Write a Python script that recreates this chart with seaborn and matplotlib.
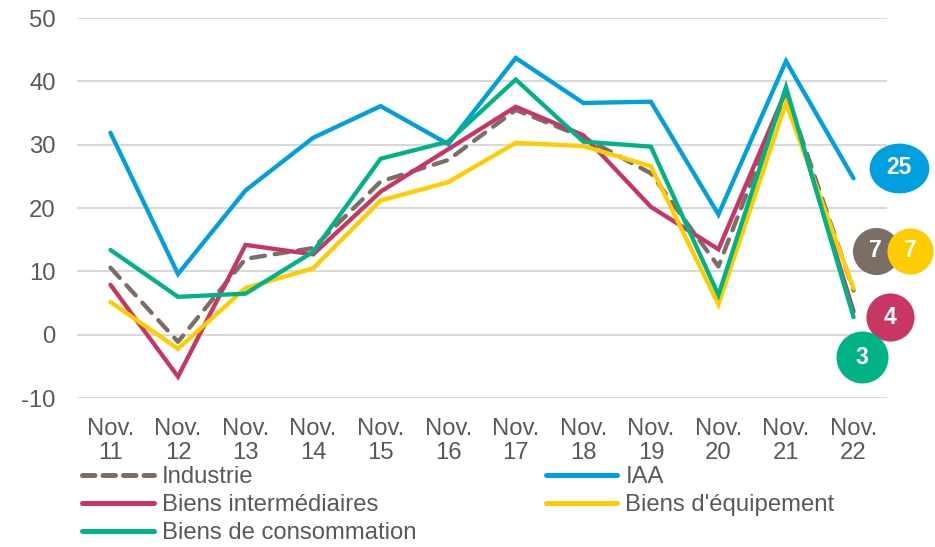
import numpy as np
import pandas as pd
import matplotlib.pyplot as plt
import seaborn as sns
from matplotlib.lines import Line2D

# ==========================================
# données
# ==========================================
mois = ["Nov.\n11", "Nov.\n12", "Nov.\n13", "Nov.\n14", "Nov.\n15", "Nov.\n16",
        "Nov.\n17", "Nov.\n18", "Nov.\n19", "Nov.\n20", "Nov.\n21", "Nov.\n22"]

industrie = [10.6, -1.1, 12.0, 13.7, 24.2, 27.6, 35.5, 31.2, 25.5, 10.8, 38.3, 7.0]
iaa = [31.9, 9.6, 22.8, 31.1, 36.1, 30.1, 43.7, 36.6, 36.8, 19.0, 43.2, 24.7]
biens_inter = [7.9, -6.6, 14.2, 12.7, 22.6, 29.3, 36.0, 31.5, 20.2, 13.5, 38.5, 3.7]
biens_equip = [5.2, -2.2, 7.4, 10.5, 21.2, 24.1, 30.3, 29.8, 26.6, 4.8, 36.6, 7.3]
biens_conso = [13.4, 6.0, 6.5, 13.1, 27.8, 30.5, 40.3, 30.5, 29.7, 6.3, 39.1, 2.8]

series = {
    "Industrie": industrie,
    "IAA": iaa,
    "Biens intermédiaires": biens_inter,
    "Biens d'équipement": biens_equip,
    "Biens de consommation": biens_conso,
}
couleurs = {
    "Industrie": "#7B6F65",
    "IAA": "#00A0DE",
    "Biens intermédiaires": "#C83763",
    "Biens d'équipement": "#FFCC00",
    "Biens de consommation": "#00B386",
}

# pastilles de fin de série
pastilles = ["25", "7", "7", "4", "3"]
pastilles_serie = ["IAA", "Industrie", "Biens d'équipement", "Biens intermédiaires", "Biens de consommation"]
# position des pastilles (x en catégories, y en unités)
pastilles_pos = [(11.67, 26.4), (11.33, 13.3), (11.84, 13.3), (11.54, 2.8), (11.13, -3.5)]
pastilles_taille = [1850, 1150, 1100, 1200, 1400]

GRIS = "#595959"
FS = 17.2

rows = []
for nom, vals in series.items():
    for i, v in enumerate(vals):
        rows.append({"mois": i, "serie": nom, "valeur": v})
df = pd.DataFrame(rows)

sns.set_theme(style="white")
plt.rcParams['font.family'] = ['Liberation Sans', 'DejaVu Sans']
plt.rcParams['axes.unicode_minus'] = False

fig = plt.figure(figsize=(9.35, 5.47), dpi=100)
ax = fig.add_axes([0.082, 0.272, 0.867, 0.695])

sns.lineplot(
    data=df, x="mois", y="valeur", hue="serie", style="serie",
    hue_order=list(series.keys()), style_order=list(series.keys()),
    palette=couleurs,
    dashes={"Industrie": (3.2, 2.3), "IAA": "", "Biens intermédiaires": "",
            "Biens d'équipement": "", "Biens de consommation": ""},
    linewidth=3.1, ax=ax, legend=False,
)
for ln in ax.get_lines():
    ln.set_dash_capstyle("round")
    ln.set_solid_joinstyle("miter")

ax.set_xlim(-0.5, 11.5)
ax.set_ylim(-10, 50)
ax.set_yticks(range(-10, 51, 10))
ax.set_xticks(range(12))
ax.set_xticklabels(mois, linespacing=1.15)
ax.grid(axis="y", color="#D9D9D9", linewidth=1.5)
ax.set_axisbelow(True)
for s in ax.spines.values():
    s.set_visible(False)
ax.tick_params(axis="both", length=0, labelsize=FS, colors=GRIS)
ax.tick_params(axis="y", pad=15)
ax.tick_params(axis="x", pad=14)
ax.set_xlabel("")
ax.set_ylabel("")

# pastilles
for txt, nom, (px, py), taille in zip(pastilles, pastilles_serie, pastilles_pos, pastilles_taille):
    if len(txt) > 1:
        t = np.linspace(0, 2 * np.pi, 60)
        marker = np.column_stack([1.2 * np.cos(t), np.sin(t)])
    else:
        marker = "o"
    ax.scatter([px], [py], s=taille, color=couleurs[nom], marker=marker,
               clip_on=False, zorder=5, linewidths=0)
    ax.text(px, py, txt, color="white", fontsize=16.5, fontweight="bold",
            ha="center", va="center", zorder=6, clip_on=False)

# légende
ordre = ["Industrie", "Biens intermédiaires", "Biens de consommation", "IAA", "Biens d'équipement"]
handles = []
for nom in ordre:
    if nom == "Industrie":
        h = Line2D([0], [0], color=couleurs[nom], lw=3.6, dashes=(2.5, 1.6),
                   dash_capstyle="round")
    else:
        h = Line2D([0], [0], color=couleurs[nom], lw=3.6, solid_capstyle="round")
    handles.append(h)
leg = fig.legend(handles, ordre, loc="upper left", bbox_to_anchor=(0.088, 0.148),
                 ncol=2, frameon=False, fontsize=FS, handlelength=3.0,
                 handletextpad=0.34, labelspacing=0.26, columnspacing=5.4,
                 borderaxespad=0, borderpad=0)
for t in leg.get_texts():
    t.set_color(GRIS)

fig.savefig("out.png", dpi=100)
